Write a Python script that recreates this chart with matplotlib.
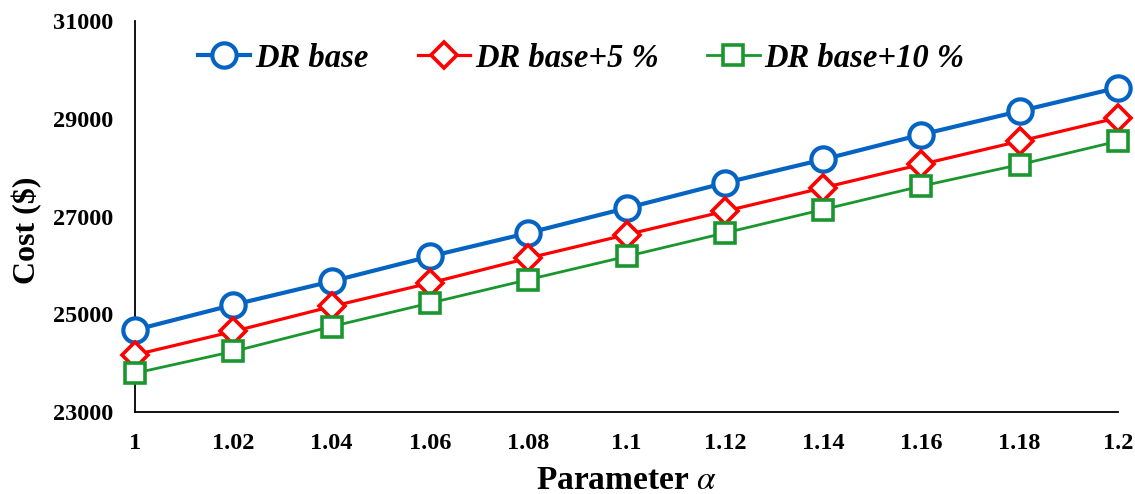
import matplotlib
matplotlib.use("Agg")
import matplotlib.pyplot as plt

plt.rcParams['font.family'] = ['Liberation Serif', 'DejaVu Serif']
plt.rcParams['mathtext.fontset'] = 'stix'

# --- data ---
alpha = [1.00, 1.02, 1.04, 1.06, 1.08, 1.10, 1.12, 1.14, 1.16, 1.18, 1.20]
alpha_labels = ['1', '1.02', '1.04', '1.06', '1.08', '1.1', '1.12', '1.14', '1.16', '1.18', '1.2']
dr_base = [24680, 25195, 25675, 26185, 26665, 27175, 27690, 28170, 28680, 29160, 29640]
dr_base_5 = [24170, 24650, 25160, 25640, 26150, 26630, 27110, 27590, 28070, 28545, 29025]
dr_base_10 = [23795, 24240, 24750, 25230, 25710, 26185, 26665, 27145, 27625, 28065, 28545]
y_ticks = [23000, 25000, 27000, 29000, 31000]

fig = plt.figure(figsize=(11.35, 4.94), dpi=100)
ax = fig.add_axes([0.119, 0.166, 0.866, 0.791])

ax.plot(alpha, dr_base, color='#0563C1', lw=3.0, marker='o', ms=17.5, mew=3,
        mfc='white', mec='#0563C1', label='DR base', zorder=3, clip_on=False)
ax.plot(alpha, dr_base_5, color='#FF0000', lw=2.3, marker='D', ms=13, mew=2.6,
        mfc='white', mec='#FF0000', label='DR base+5 %', zorder=4, clip_on=False)
ax.plot(alpha, dr_base_10, color='#1A962E', lw=2.0, marker='s', ms=14.5, mew=2.6,
        mfc='white', mec='#1A962E', label='DR base+10 %', zorder=5, clip_on=False)

ax.set_xlim(1.0, 1.2)
ax.set_ylim(23000, 31000)
ax.set_xticks(alpha)
ax.set_xticklabels(alpha_labels)
ax.set_yticks(y_ticks)
ax.set_yticklabels([str(v) for v in y_ticks])
ax.tick_params(length=0, labelsize=17.5)
ax.tick_params(axis='x', pad=15)
ax.tick_params(axis='y', pad=16)
for lab in ax.get_xticklabels() + ax.get_yticklabels():
    lab.set_fontweight('bold')

for side in ['top', 'right']:
    ax.spines[side].set_visible(False)
for side in ['left', 'bottom']:
    ax.spines[side].set_color('black')
    ax.spines[side].set_linewidth(1.3)

ax.set_ylabel('Cost ($)', fontsize=23, fontweight='bold')
ax.yaxis.set_label_coords(-0.094, 0.464)
ax.set_xlabel(r'Parameter $\alpha$', fontsize=24, fontweight='bold', labelpad=8)

leg = ax.legend(loc='center', bbox_to_anchor=(0.454, 0.905), ncol=3, frameon=False,
                prop={'size': 23.5, 'weight': 'bold', 'style': 'italic'},
                handlelength=1.6, handletextpad=0.15, columnspacing=1.5)

fig.savefig('out.png', dpi=100)
